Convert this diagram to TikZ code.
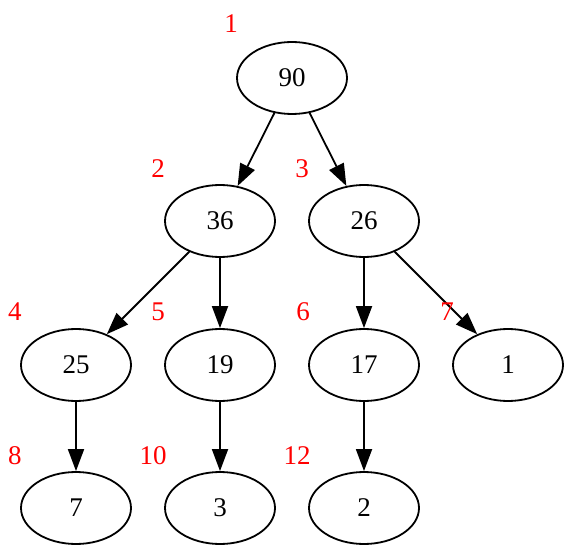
\documentclass[tikz,border=0pt]{standalone}
\usepackage{fontspec}
\setmainfont{Liberation Serif}
\usetikzlibrary{shapes.geometric, arrows.meta}
\tikzset{
  key/.style={ellipse, draw, line width=1.8pt, minimum width=110pt,
              minimum height=72pt, inner sep=0pt, font=\fontsize{27}{31}\selectfont},
  idx/.style={text=red, inner sep=0pt, font=\fontsize{27}{31}\selectfont},
  edge/.style={-{Triangle[length=22pt, width=16pt]}, line width=1.8pt},
}

\begin{document}
\begin{tikzpicture}[x=1pt, y=-1pt]
  \useasboundingbox (0,0) rectangle (570,553);

  \node[key] (n90) at (292,78) {90};
  \node[key] (n36) at (220,221) {36};
  \node[key] (n26) at (364,221) {26};
  \node[key] (n25) at (76,365) {25};
  \node[key] (n19) at (220,365) {19};
  \node[key] (n17) at (364,365) {17};
  \node[key] (n1) at (508,365) {1};
  \node[key] (n7) at (76,508) {7};
  \node[key] (n3) at (220,508) {3};
  \node[key] (n2) at (364,508) {2};

  \draw[edge] (n90) -- (n36);
  \draw[edge] (n90) -- (n26);
  \draw[edge] (n36) -- (n25);
  \draw[edge] (n36) -- (n19);
  \draw[edge] (n26) -- (n17);
  \draw[edge] (n26) -- (n1);
  \draw[edge] (n25) -- (n7);
  \draw[edge] (n19) -- (n3);
  \draw[edge] (n17) -- (n2);

  \node[idx] (i1) at (231,24) {1};
  \node[idx] (i2) at (158,169) {2};
  \node[idx] (i3) at (302,169) {3};
  \node[idx] (i4) at (15,312) {4};
  \node[idx] (i5) at (158,312) {5};
  \node[idx] (i6) at (303,312) {6};
  \node[idx] (i7) at (447,312) {7};
  \node[idx] (i8) at (15,456) {8};
  \node[idx] (i10) at (153,456) {10};
  \node[idx] (i12) at (297,456) {12};

\end{tikzpicture}
\end{document}
